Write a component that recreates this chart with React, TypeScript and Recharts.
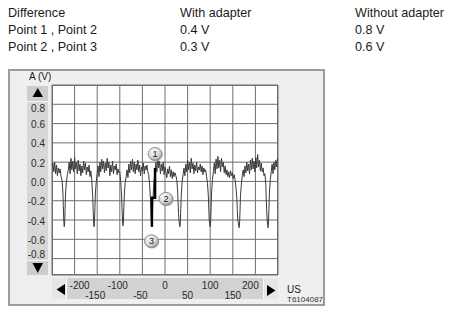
import { ComposedChart, Line, Scatter, XAxis, YAxis, CartesianGrid } from 'recharts'

const W = 455
const H = 313
const FONT = '"Liberation Sans", Arial, sans-serif'

const headers = ['Difference', 'With adapter', 'Without adapter']
const pointPairs = ['Point 1 , Point 2', 'Point 2 , Point 3']
const withAdapter = ['0.4 V', '0.3 V']
const withoutAdapter = ['0.8 V', '0.6 V']

const voltTicks = [0.8, 0.6, 0.4, 0.2, 0, -0.2, -0.4, -0.6, -0.8]
const timeTicks = [-200, -150, -100, -50, 0, 50, 100, 150, 200]

// scope trace: [time (us), volts]
const trace: [number, number][] = [
  [-250, 0.15], [-248, 0.19], [-246, 0.1], [-244, 0.2], [-242, 0.08], [-240, 0.17], [-238, 0.06], [-236, 0.14],
  [-234, 0.09], [-232, 0.13], [-230, 0.05], [-228, 0.02],
  [-226, -0.1], [-225, -0.25], [-224, -0.4], [-223, -0.47], [-222, -0.43], [-221, -0.28], [-220, -0.12], [-218, 0.0], [-216, 0.07],
  [-214, 0.12], [-212, 0.2], [-210, 0.08], [-208, 0.24], [-206, 0.12], [-204, 0.21], [-202, 0.1], [-200, 0.25],
  [-198, 0.13], [-196, 0.2], [-194, 0.08], [-192, 0.22], [-190, 0.11], [-188, 0.18], [-186, 0.06], [-184, 0.16],
  [-182, 0.09], [-180, 0.21], [-178, 0.12], [-176, 0.19], [-174, 0.07], [-172, 0.15], [-170, 0.1], [-168, 0.17],
  [-166, 0.05], [-164, 0.11], [-162, 0.01],
  [-160, -0.14], [-159, -0.28], [-158, -0.41], [-157, -0.47], [-156, -0.42], [-155, -0.27], [-154, -0.12], [-152, 0.0], [-150, 0.08],
  [-148, 0.16], [-146, 0.05], [-144, 0.2], [-142, 0.1], [-140, 0.23], [-138, 0.13], [-136, 0.21], [-134, 0.09],
  [-132, 0.19], [-130, 0.11], [-128, 0.24], [-126, 0.14], [-124, 0.2], [-122, 0.06], [-120, 0.17], [-118, 0.1],
  [-116, 0.21], [-114, 0.08], [-112, 0.16], [-110, 0.12], [-108, 0.18], [-106, 0.07], [-104, 0.13], [-102, 0.09],
  [-100, 0.1], [-98, 0.0],
  [-96, -0.15], [-95, -0.29], [-94, -0.4], [-93, -0.46], [-92, -0.41], [-91, -0.27], [-90, -0.13], [-88, -0.01], [-86, 0.05],
  [-84, 0.12], [-82, 0.04], [-80, 0.18], [-78, 0.09], [-76, 0.21], [-74, 0.12], [-72, 0.23], [-70, 0.1],
  [-68, 0.2], [-66, 0.08], [-64, 0.18], [-62, 0.12], [-60, 0.22], [-58, 0.1], [-56, 0.17], [-54, 0.06],
  [-52, 0.15], [-50, 0.11], [-48, 0.19], [-46, 0.08], [-44, 0.16], [-42, 0.12], [-40, 0.17], [-38, 0.1],
  [-36, 0.07], [-34, -0.04],
  [-32, -0.2], [-31, -0.33], [-30, -0.42], [-29, -0.47], [-28, -0.38], [-27, -0.24], [-26, -0.12], [-24, 0.02], [-22, 0.12],
  [-20, 0.2], [-18, 0.1], [-16, 0.26], [-14, 0.14], [-12, 0.21], [-10, 0.08], [-8, 0.18], [-6, 0.11],
  [-4, 0.2], [-2, 0.07], [0, 0.15], [2, 0.1], [4, 0.04], [6, 0.13], [8, 0.08], [10, 0.16],
  [12, 0.05], [14, 0.12], [16, 0.03], [18, 0.1], [20, 0.05], [22, 0.09], [24, 0.06], [26, 0.02], [28, -0.1],
  [29, -0.22], [30, -0.33], [31, -0.41], [33, -0.47], [34, -0.42], [35, -0.28], [36, -0.14], [38, 0.0], [40, 0.07],
  [42, 0.14], [44, 0.06], [46, 0.18], [48, 0.1], [50, 0.22], [52, 0.12], [54, 0.2], [56, 0.09],
  [58, 0.24], [60, 0.13], [62, 0.19], [64, 0.08], [66, 0.17], [68, 0.11], [70, 0.2], [72, 0.09],
  [74, 0.15], [76, 0.12], [78, 0.18], [80, 0.1], [82, 0.16], [84, 0.07], [86, 0.14], [88, 0.1],
  [90, 0.12], [92, 0.05], [94, -0.02],
  [96, -0.16], [97, -0.3], [98, -0.41], [100, -0.47], [101, -0.42], [102, -0.27], [103, -0.12], [105, 0.02], [107, 0.1],
  [109, 0.19], [111, 0.08], [113, 0.23], [115, 0.13], [117, 0.26], [119, 0.14], [121, 0.22], [123, 0.1],
  [125, 0.24], [127, 0.15], [129, 0.2], [131, 0.09], [133, 0.16], [135, 0.07], [137, 0.12], [139, 0.05],
  [141, 0.1], [143, 0.04], [145, 0.11], [147, 0.06], [149, 0.09], [151, 0.03], [153, 0.07], [155, 0.02], [157, -0.06],
  [159, -0.18], [160, -0.3], [161, -0.4], [164, -0.48], [165, -0.43], [166, -0.3], [167, -0.15], [169, -0.03], [171, 0.06],
  [173, 0.12], [175, 0.05], [177, 0.16], [179, 0.09], [181, 0.2], [183, 0.11], [185, 0.18], [187, 0.08],
  [189, 0.22], [191, 0.12], [193, 0.24], [195, 0.13], [197, 0.21], [199, 0.1], [201, 0.25], [203, 0.14],
  [205, 0.28], [207, 0.15], [209, 0.22], [211, 0.11], [213, 0.19], [215, 0.1], [217, 0.14], [219, 0.06],
  [221, 0.08], [223, -0.03],
  [224, -0.18], [225, -0.3], [226, -0.4], [228, -0.48], [229, -0.42], [230, -0.28], [231, -0.12], [233, 0.02], [235, 0.1],
  [237, 0.18], [239, 0.08], [241, 0.2], [243, 0.12], [245, 0.22], [247, 0.15], [249, 0.24], [250, 0.2],
]

// cursor step measured on the 4th dip
const cursorStep: [number, number][] = [[-29, -0.47], [-29, -0.17], [-22, -0.17], [-22, 0.14]]

const markerLabels = ['1', '2', '3']
const markerTimes = [-22, 2, -30]
const markerVolts = [0.285, -0.18, -0.62]

const traceData = trace.map(([t, v]) => ({ t, v }))
const stepData = cursorStep.map(([t, v]) => ({ t, v }))
const markerData = markerLabels.map((label, i) => ({ label, t: markerTimes[i], v: markerVolts[i] }))

function VoltTick(props: any) {
  const { y, payload } = props
  const v = payload.value
  const nudge = v === 0.8 ? 4 : v === -0.8 ? -4 : 1
  return (
    <text x={45} y={y + 3.5 + nudge} textAnchor="end" fontSize={10} fontFamily={FONT} fill="#2a2a2a">
      {v.toFixed(1)}
    </text>
  )
}

function TimeTick(props: any) {
  const { x, payload } = props
  const t = payload.value
  const top = Math.abs(t) % 100 === 0
  const nudge = t === -200 ? 5 : t === 200 ? -5 : t < 0 ? -2 : 0
  return (
    <text x={x + nudge} y={top ? 288.5 : 298.5} textAnchor="middle" fontSize={10} fontFamily={FONT} fill="#2a2a2a">
      {t}
    </text>
  )
}

function Badge(props: any) {
  const { cx, cy, payload } = props
  const id = `badge-${payload.label}`
  return (
    <g>
      <defs>
        <radialGradient id={id} cx="38%" cy="32%" r="75%">
          <stop offset="0%" stopColor="#ffffff" />
          <stop offset="60%" stopColor="#d6d6d6" />
          <stop offset="100%" stopColor="#8f8f8f" />
        </radialGradient>
      </defs>
      <ellipse cx={cx + 1} cy={cy + 1} rx={7} ry={6.5} fill="#bdbdbd" opacity={0.6} />
      <ellipse cx={cx} cy={cy} rx={7} ry={6.5} fill={`url(#${id})`} stroke="#7a7a7a" strokeWidth={0.8} />
      <text x={cx} y={cy + 3} textAnchor="middle" fontSize={9} fontFamily={FONT} fill="#111">
        {payload.label}
      </text>
    </g>
  )
}

function Tri({ w, h, points }: { w: number; h: number; points: string }) {
  return (
    <svg width={w} height={h} style={{ display: 'block' }}>
      <polygon points={points} fill="#000" />
    </svg>
  )
}

const box = (left: number, top: number, width: number, height: number, extra: any = {}) => ({
  position: 'absolute' as const,
  left,
  top,
  width,
  height,
  boxSizing: 'border-box' as const,
  ...extra,
})

export default function App() {
  const cols = [8, 180, 355]
  const rows = [17, 34, 51]
  const tableRows = [headers, [pointPairs[0], withAdapter[0], withoutAdapter[0]], [pointPairs[1], withAdapter[1], withoutAdapter[1]]]
  return (
    <div style={box(0, 0, W, H, { background: '#fff', overflow: 'hidden' })}>
      <svg width={W} height={60} style={{ position: 'absolute', left: 0, top: 0 }}>
        {tableRows.map((r, ri) =>
          r.map((txt, ci) => (
            <text key={`${ri}-${ci}`} x={cols[ci]} y={rows[ri]} fontSize={12.6} fontFamily={FONT} fill="#1a1a1a">
              {txt}
            </text>
          ))
        )}
      </svg>

      {/* instrument panel */}
      <div style={box(8, 69, 317, 237, { background: '#efefef', border: '2px solid #9c9c9c' })} />
      <div style={box(52, 85, 226, 190, { background: '#fff', border: '1px solid #6e6e6e' })} />

      {/* y scroll strip */}
      <div style={box(27, 86, 21, 16, { background: '#cdcdcd', borderBottom: '1px solid #fafafa' })}>
        <Tri w={21} h={15} points="5.5,11 16,11 10.75,2" />
      </div>
      <div style={box(27, 102, 21, 158, { background: '#d7d7d7' })} />
      <div style={box(27, 260, 21, 15, { background: '#cdcdcd', borderTop: '1px solid #fafafa' })}>
        <Tri w={21} h={14} points="5.5,2 16,2 10.75,12" />
      </div>

      {/* x scroll strip */}
      <div style={box(52, 278, 15, 21, { background: '#e6e6e6', borderRight: '1px solid #fafafa' })}>
        <Tri w={15} h={21} points="13,6 13,17 4.5,11.5" />
      </div>
      <div style={box(67, 278, 196, 21, { background: '#d2d2d2' })} />
      <div style={box(263, 278, 15, 21, { background: '#e6e6e6', borderLeft: '1px solid #fafafa' })}>
        <Tri w={15} h={21} points="3,7 3,18 11.5,12.5" />
      </div>

      <svg width={W} height={H} style={{ position: 'absolute', left: 0, top: 0 }}>
        <text x={29} y={80} fontSize={10} fontFamily={FONT} fill="#1a1a1a">A (V)</text>
        <text x={287} y={293} fontSize={10} fontFamily={FONT} fill="#1a1a1a">US</text>
        <text x={287} y={302} fontSize={8} fontFamily={FONT} fill="#333">T6104087</text>
      </svg>

      <div style={{ position: 'absolute', left: 0, top: 0 }}>
        <ComposedChart width={W} height={H} margin={{ top: 85, right: 177, bottom: 8, left: 8 }}>
          <CartesianGrid stroke="#6e6e6e" strokeWidth={1} />
          <XAxis
            dataKey="t"
            type="number"
            domain={[-250, 250]}
            ticks={timeTicks}
            interval={0}
            height={30}
            axisLine={false}
            tickLine={false}
            allowDataOverflow
            tick={(p: any) => <TimeTick {...p} />}
          />
          <YAxis
            dataKey="v"
            type="number"
            domain={[-0.97, 1]}
            ticks={voltTicks}
            interval={0}
            width={44}
            axisLine={false}
            tickLine={false}
            allowDataOverflow
            tick={(p: any) => <VoltTick {...p} />}
          />
          <Line data={traceData} dataKey="v" stroke="#3a3a3a" strokeWidth={1} dot={false} isAnimationActive={false} type="linear" />
          <Line data={stepData} dataKey="v" stroke="#000" strokeWidth={2.5} dot={false} isAnimationActive={false} type="linear" />
          <Scatter data={markerData} dataKey="v" shape={(p: any) => <Badge {...p} />} isAnimationActive={false} />
        </ComposedChart>
      </div>
    </div>
  )
}
